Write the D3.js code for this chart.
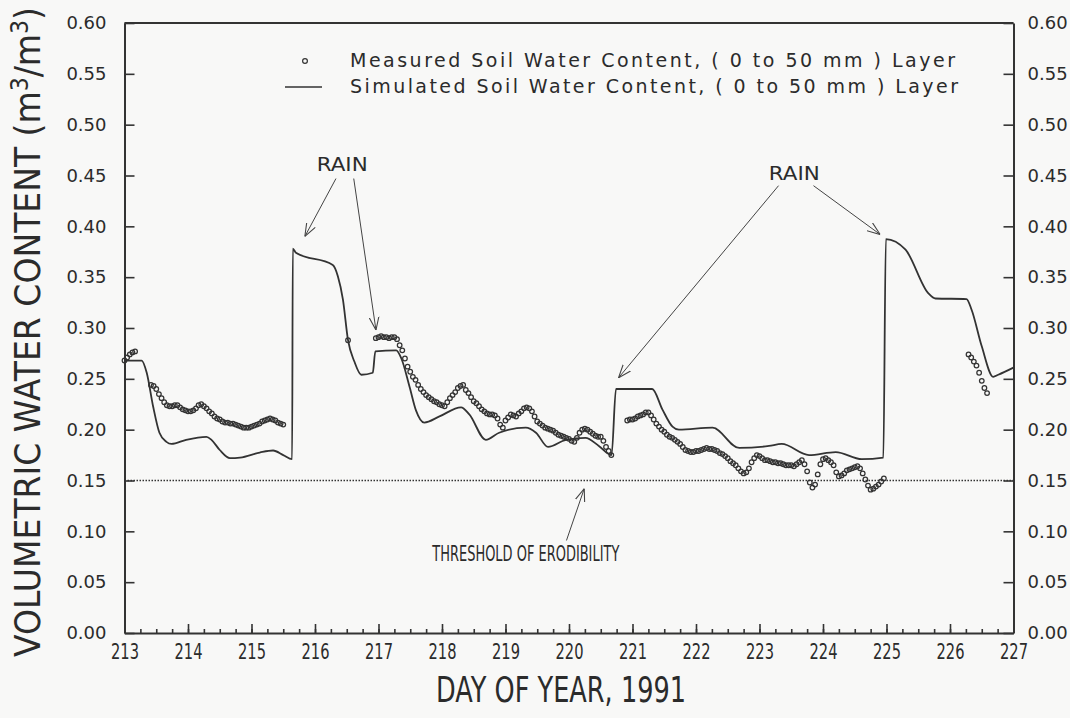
<!DOCTYPE html>
<html lang="en">
<head>
<meta charset="UTF-8"/>
<title>Soil water content, day of year 1991</title>
<script src="https://d3js.org/d3.v7.min.js"></script>
<style>
	body { margin: 0; background: #f8f8f7; }
	svg text { fill: #2b2b2b; font-family: "DejaVu Sans", sans-serif; }
	.axis path, .axis line { stroke: #333; }
</style>
</head>
<body>
<script>
// ***Data***
var dayTicks = [213, 214, 215, 216, 217, 218, 219, 220, 221, 222, 223, 224, 225, 226, 227];
var valueTicks = [0, 0.05, 0.10, 0.15, 0.20, 0.25, 0.30, 0.35, 0.40, 0.45, 0.50, 0.55, 0.60];
var threshold = 0.15;

// measured soil water, hourly readings; each run starts at the given day
var measuredA = { start: 213.0, values: [0.268, 0.271, 0.274, 0.276, 0.277] };
var measuredB = { start: 213.417, values: [
	0.244, 0.243, 0.240, 0.235, 0.231, 0.227, 0.224, 0.223, 0.223, 0.224,
	0.224, 0.222, 0.220, 0.219, 0.218, 0.218, 0.219, 0.221, 0.224, 0.225,
	0.223, 0.221, 0.218, 0.216, 0.213, 0.211, 0.210, 0.208, 0.207, 0.207,
	0.206, 0.206, 0.205, 0.204, 0.203, 0.202, 0.202, 0.202, 0.203, 0.204,
	0.205, 0.206, 0.208, 0.209, 0.210, 0.211, 0.210, 0.209, 0.207, 0.206, 0.205] };
var measuredC = { start: 216.958, values: [
	0.290, 0.291, 0.292, 0.291, 0.291, 0.290, 0.291, 0.291, 0.289, 0.283,
	0.278, 0.270, 0.262, 0.257, 0.252, 0.249, 0.244, 0.240, 0.237, 0.234,
	0.232, 0.230, 0.228, 0.227, 0.225, 0.224, 0.223, 0.227, 0.231, 0.234,
	0.237, 0.241, 0.243, 0.244, 0.239, 0.236, 0.232, 0.228, 0.226, 0.223,
	0.220, 0.218, 0.216, 0.215, 0.215, 0.214, 0.211, 0.205, 0.202, 0.209,
	0.212, 0.215, 0.214, 0.213, 0.216, 0.218, 0.221, 0.222, 0.221, 0.218,
	0.213, 0.208, 0.206, 0.204, 0.202, 0.201, 0.200, 0.199, 0.197, 0.195,
	0.194, 0.193, 0.192, 0.191, 0.189, 0.188, 0.192, 0.197, 0.200, 0.201,
	0.200, 0.198, 0.196, 0.194, 0.193, 0.193, 0.189, 0.183, 0.179, 0.175] };
var measuredD = { start: 220.917, values: [
	0.209, 0.210, 0.210, 0.211, 0.213, 0.214, 0.215, 0.217, 0.217, 0.214,
	0.210, 0.206, 0.203, 0.200, 0.198, 0.195, 0.193, 0.192, 0.190, 0.188,
	0.186, 0.183, 0.180, 0.179, 0.178, 0.178, 0.179, 0.179, 0.180, 0.181,
	0.182, 0.181, 0.181, 0.180, 0.179, 0.177, 0.176, 0.174, 0.172, 0.169,
	0.167, 0.165, 0.162, 0.159, 0.157, 0.158, 0.162, 0.168, 0.172, 0.175,
	0.174, 0.172, 0.170, 0.170, 0.169, 0.168, 0.168, 0.167, 0.167, 0.166,
	0.165, 0.165, 0.165, 0.164, 0.166, 0.168, 0.170, 0.166, 0.159, 0.148,
	0.143, 0.146, 0.156, 0.166, 0.171, 0.172, 0.170, 0.168, 0.165, 0.158,
	0.154, 0.155, 0.157, 0.160, 0.161, 0.162, 0.163, 0.164, 0.162, 0.157,
	0.151, 0.145, 0.141, 0.142, 0.144, 0.146, 0.149, 0.152] };
var measuredE = { start: 226.292, values: [0.274, 0.271, 0.267, 0.263, 0.256, 0.248, 0.241, 0.236] };
var measuredExtra = [[216.52, 0.288]];

// simulated soil water, [day, value]
var simulated = [
	[213.00, 0.268], [213.27, 0.268], [213.35, 0.256], [213.45, 0.223], [213.55, 0.197],
	[213.66, 0.188], [213.74, 0.186], [213.97, 0.190], [214.29, 0.193], [214.37, 0.190],
	[214.50, 0.180], [214.66, 0.172], [214.82, 0.1725], [215.13, 0.1775], [215.34, 0.1795],
	[215.50, 0.175], [215.64, 0.171], [215.65, 0.378], [215.70, 0.374], [216.28, 0.362],
	[216.36, 0.351], [216.44, 0.328], [216.52, 0.288], [216.62, 0.267], [216.73, 0.254],
	[216.91, 0.256], [216.95, 0.277], [217.28, 0.278], [217.36, 0.270], [217.49, 0.242],
	[217.59, 0.219], [217.72, 0.207], [217.96, 0.213], [218.30, 0.222], [218.43, 0.215],
	[218.69, 0.190], [218.90, 0.197], [219.32, 0.202], [219.48, 0.197], [219.67, 0.183],
	[219.95, 0.190], [220.26, 0.192], [220.47, 0.184], [220.67, 0.175], [220.74, 0.240],
	[221.31, 0.240], [221.47, 0.220], [221.63, 0.203], [221.73, 0.200], [222.26, 0.202],
	[222.68, 0.182], [223.15, 0.184], [223.35, 0.186], [223.78, 0.175], [224.20, 0.178],
	[224.61, 0.171], [224.95, 0.1725], [224.99, 0.3875], [225.30, 0.377], [225.66, 0.334],
	[225.77, 0.329], [226.26, 0.3285], [226.34, 0.318], [226.50, 0.282], [226.68, 0.252],
	[226.76, 0.254], [227.00, 0.261]
];

var legendLabels = [
	"Measured Soil Water Content, ( 0 to 50 mm ) Layer",
	"Simulated Soil Water Content, ( 0 to 50 mm ) Layer"
];

// annotation texts and arrows, in data units: [day, value]
var rainLabels = [[216.42, 0.454], [223.54, 0.446]];
var rainArrows = [
	[[216.33, 0.447], [215.84, 0.390]],
	[[216.61, 0.447], [216.96, 0.298]],
	[[223.30, 0.440], [220.78, 0.251]],
	[[223.85, 0.440], [224.90, 0.392]]
];
var thresholdLabel = [219.32, 0.071];
var thresholdArrow = [[219.96, 0.091], [220.24, 0.142]];
// ***Data***

var w = 1070;
var h = 718;

var xScale = d3.scaleLinear().domain([213, 227]).range([124.5, 1013.5]);
var yScale = d3.scaleLinear().domain([0, 0.6]).range([633, 23]);

var svg = d3.select("body")
	.append("svg")
	.attr("width", w)
	.attr("height", h);

svg.append("rect").attr("width", w).attr("height", h).attr("fill", "#f8f8f7");

var defs = svg.append("defs");
defs.append("marker")
	.attr("id", "arrow")
	.attr("viewBox", "0 -5 12 10")
	.attr("refX", 12)
	.attr("refY", 0)
	.attr("markerWidth", 13)
	.attr("markerHeight", 11)
	.attr("markerUnits", "userSpaceOnUse")
	.attr("orient", "auto")
	.append("path")
	.attr("d", "M0,-4.5L12,0L0,4.5")
	.attr("fill", "none")
	.attr("stroke", "#444")
	.attr("stroke-width", 1);

// x axis: minor quarter-day ticks, then major day ticks
var quarterTicks = d3.range(213, 227.001, 0.25);
svg.append("g")
	.attr("class", "axis")
	.attr("transform", "translate(0," + yScale(0) + ")")
	.call(d3.axisBottom(xScale).tickValues(quarterTicks).tickSize(-4).tickSizeOuter(0).tickFormat(""))
	.call(function(g) { g.select(".domain").remove(); });

var xAxis = svg.append("g")
	.attr("class", "axis")
	.attr("transform", "translate(0," + yScale(0) + ")")
	.call(d3.axisBottom(xScale).tickValues(dayTicks).tickSize(-9).tickSizeOuter(0).tickPadding(11).tickFormat(d3.format("d")));
xAxis.selectAll("text")
	.style("font-size", "21px")
	.attr("textLength", 28)
	.attr("lengthAdjust", "spacingAndGlyphs");

var leftAxis = svg.append("g")
	.attr("class", "axis")
	.attr("transform", "translate(" + xScale(213) + ",0)")
	.call(d3.axisLeft(yScale).tickValues(valueTicks).tickSize(-10).tickSizeOuter(0).tickPadding(18).tickFormat(d3.format(".2f")));

var rightAxis = svg.append("g")
	.attr("class", "axis")
	.attr("transform", "translate(" + xScale(227) + ",0)")
	.call(d3.axisRight(yScale).tickValues(valueTicks).tickSize(-10).tickSizeOuter(0).tickPadding(14).tickFormat(d3.format(".2f")));

svg.selectAll(".axis .domain").attr("stroke-width", 2);
svg.selectAll(".axis .tick line").attr("stroke-width", 1.6);
leftAxis.selectAll("text").style("font-size", "18px");
rightAxis.selectAll("text").style("font-size", "18px");

// top frame line
svg.append("line")
	.attr("x1", xScale(213)).attr("x2", xScale(227))
	.attr("y1", yScale(0.6)).attr("y2", yScale(0.6))
	.attr("stroke", "#333").attr("stroke-width", 2);

// threshold of erodibility
svg.append("line")
	.attr("x1", xScale(213)).attr("x2", xScale(227))
	.attr("y1", yScale(threshold)).attr("y2", yScale(threshold))
	.attr("stroke", "#333").attr("stroke-width", 1.3)
	.attr("stroke-dasharray", "1.5,1.5");

// simulated line
var line = d3.line()
	.curve(d3.curveMonotoneX)
	.x(function(d) { return xScale(d[0]); })
	.y(function(d) { return yScale(d[1]); });

svg.append("path")
	.datum(simulated)
	.attr("d", line)
	.attr("fill", "none")
	.attr("stroke", "#333")
	.attr("stroke-width", 1.8)
	.attr("stroke-linejoin", "round");

// measured points
var measuredRuns = [measuredA, measuredB, measuredC, measuredD, measuredE];
var measured = measuredExtra.slice();
measuredRuns.forEach(function(run) {
	run.values.forEach(function(v, i) {
		measured.push([run.start + i / 24, v]);
	});
});

svg.selectAll("circle.measured")
	.data(measured)
	.enter()
	.append("circle")
	.attr("class", "measured")
	.attr("cx", function(d) { return xScale(d[0]); })
	.attr("cy", function(d) { return yScale(d[1]); })
	.attr("r", 2.3)
	.attr("fill", "none")
	.attr("stroke", "#333")
	.attr("stroke-width", 1.25);

// legend
svg.append("circle")
	.attr("cx", 305).attr("cy", 61).attr("r", 2.4)
	.attr("fill", "none").attr("stroke", "#333").attr("stroke-width", 1.2);
svg.append("line")
	.attr("x1", 285).attr("x2", 322).attr("y1", 87).attr("y2", 87)
	.attr("stroke", "#333").attr("stroke-width", 1.6);
svg.selectAll("text.legend")
	.data(legendLabels)
	.enter()
	.append("text")
	.attr("class", "legend")
	.attr("x", 350)
	.attr("y", function(d, i) { return 67 + i * 26; })
	.attr("textLength", function(d, i) { return i == 0 ? 605 : 608; })
	.style("font-size", "19px")
	.text(function(d) { return d; });

// rain annotations
svg.selectAll("text.rain")
	.data(rainLabels)
	.enter()
	.append("text")
	.attr("class", "rain")
	.attr("x", function(d) { return xScale(d[0]) - 25; })
	.attr("y", function(d) { return yScale(d[1]); })
	.attr("textLength", 51)
	.attr("lengthAdjust", "spacingAndGlyphs")
	.style("font-size", "19px")
	.text("RAIN");

svg.selectAll("line.arrow")
	.data(rainArrows.concat([thresholdArrow]))
	.enter()
	.append("line")
	.attr("class", "arrow")
	.attr("x1", function(d) { return xScale(d[0][0]); })
	.attr("y1", function(d) { return yScale(d[0][1]); })
	.attr("x2", function(d) { return xScale(d[1][0]); })
	.attr("y2", function(d) { return yScale(d[1][1]); })
	.attr("stroke", "#444")
	.attr("stroke-width", 1)
	.attr("marker-end", "url(#arrow)");

svg.append("text")
	.attr("x", xScale(thresholdLabel[0]))
	.attr("y", yScale(thresholdLabel[1]))
	.attr("text-anchor", "middle")
	.attr("textLength", 187)
	.attr("lengthAdjust", "spacingAndGlyphs")
	.style("font-size", "21px")
	.text("THRESHOLD OF ERODIBILITY");

// axis titles
svg.append("text")
	.attr("x", 561)
	.attr("y", 702)
	.attr("text-anchor", "middle")
	.attr("textLength", 250)
	.attr("lengthAdjust", "spacingAndGlyphs")
	.style("font-size", "35px")
	.text("DAY OF YEAR, 1991");

var yTitle = svg.append("text")
	.attr("transform", "translate(40,332) rotate(-90)")
	.attr("text-anchor", "middle")
	.attr("textLength", 650)
	.attr("lengthAdjust", "spacingAndGlyphs")
	.style("font-size", "36px");
yTitle.append("tspan").text("VOLUMETRIC WATER CONTENT (m");
yTitle.append("tspan").attr("dy", -12).style("font-size", "24px").text("3");
yTitle.append("tspan").attr("dy", 12).text("/m");
yTitle.append("tspan").attr("dy", -12).style("font-size", "24px").text("3");
yTitle.append("tspan").attr("dy", 12).text(")");
</script>
</body>
</html>
